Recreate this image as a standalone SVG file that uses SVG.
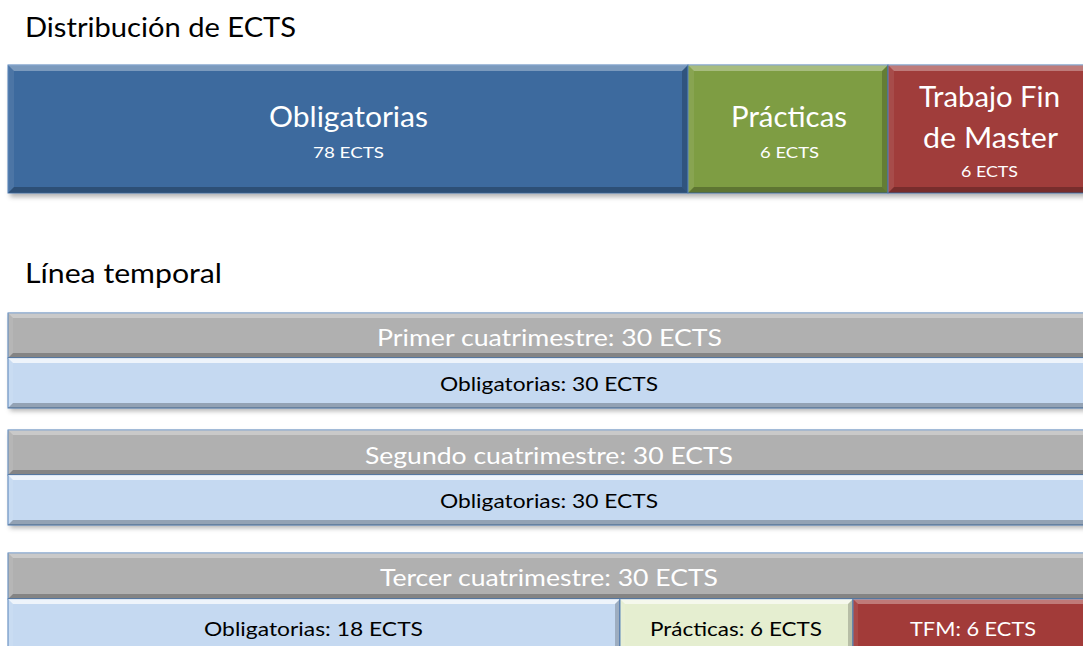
<svg xmlns="http://www.w3.org/2000/svg" width="1083" height="646" viewBox="0 0 1083 646">
<defs>
<filter id="sh" x="-5%" y="-20%" width="110%" height="150%"><feGaussianBlur stdDeviation="2.5"/></filter>
<style>
.t{font-family:Lato,"Open Sans","Liberation Sans",sans-serif}
.h{font-size:27px;fill:#000}
.w{fill:#fff}
.k{fill:#000}
.bt{fill:#fff;fill-opacity:.32}
.bl{fill:#fff;fill-opacity:.08}
.br{fill:#000;fill-opacity:.2}
.bb{fill:#000;fill-opacity:.25}
.ol{stroke:#4f7fb8;stroke-width:1}
.shd{fill:#000;fill-opacity:.3;filter:url(#sh)}
</style>
</defs>
<rect width="1083" height="646" fill="#fff"/>
<text class="t h" x="25" y="37" textLength="271" lengthAdjust="spacingAndGlyphs">Distribución de ECTS</text>
<text class="t h" x="25" y="283" textLength="197" lengthAdjust="spacingAndGlyphs">Línea temporal</text>

<g id="ects">
<rect class="shd" x="10" y="69" width="1085" height="128"/>
<g id="n-oblig">
<rect x="8" y="65" width="680" height="128" fill="#3d6a9e" class="ol"/>
<polygon class="bt" points="8,65 688,65 682,71 14,71"/>
<polygon class="bl" points="8,65 14,71 14,187 8,193"/>
<polygon class="br" points="688,65 688,193 682,187 682,71"/>
<polygon class="bb" points="8,193 688,193 682,187 14,187"/>
<text class="t w" x="348.5" y="127" font-size="28" text-anchor="middle" textLength="159" lengthAdjust="spacingAndGlyphs">Obligatorias</text>
<text class="t w" x="348.5" y="158" font-size="16" text-anchor="middle" textLength="71" lengthAdjust="spacingAndGlyphs">78 ECTS</text>
</g>
<g id="n-prac">
<rect x="688" y="65" width="200" height="128" fill="#7e9d43" class="ol"/>
<polygon class="bt" points="688,65 888,65 882,71 694,71"/>
<polygon class="bl" points="688,65 694,71 694,187 688,193"/>
<polygon class="br" points="888,65 888,193 882,187 882,71"/>
<polygon class="bb" points="688,193 888,193 882,187 694,187"/>
<text class="t w" x="789" y="127" font-size="28" text-anchor="middle" textLength="116" lengthAdjust="spacingAndGlyphs">Prácticas</text>
<text class="t w" x="789.5" y="158" font-size="16" text-anchor="middle" textLength="59" lengthAdjust="spacingAndGlyphs">6 ECTS</text>
</g>
<g id="n-tfm">
<rect x="888" y="65" width="206" height="128" fill="#a03d3b" class="ol"/>
<polygon class="bt" points="888,65 1094,65 1088,71 894,71"/>
<polygon class="bl" points="888,65 894,71 894,187 888,193"/>
<polygon class="bb" points="888,193 1094,193 1088,187 894,187"/>
<text class="t w" x="919" y="107" font-size="28" textLength="141" lengthAdjust="spacingAndGlyphs">Trabajo Fin</text>
<text class="t w" x="923" y="148" font-size="28" textLength="135" lengthAdjust="spacingAndGlyphs">de Master</text>
<text class="t w" x="989.5" y="177" font-size="16" text-anchor="middle" textLength="57" lengthAdjust="spacingAndGlyphs">6 ECTS</text>
</g>
</g>

<g id="cuat1">
<rect class="shd" x="10" y="316" width="1085" height="95"/>
<g id="n-c1h">
<rect x="8" y="313" width="1086" height="45" fill="#b0b0b0" class="ol"/>
<polygon class="bt" points="8,313 1094,313 1089,318 13,318"/>
<polygon class="bl" points="8,313 13,318 13,353 8,358"/>
<polygon class="bb" points="8,358 1094,358 1089,353 13,353"/>
<text class="t w" x="549.5" y="346" font-size="23" text-anchor="middle" textLength="345" lengthAdjust="spacingAndGlyphs">Primer cuatrimestre: 30 ECTS</text>
</g>
<g id="n-c1o">
<rect x="8" y="358" width="1086" height="50" fill="#c5d9f1" class="ol"/>
<polygon class="bt" points="8,358 1094,358 1089,363 13,363" style="fill-opacity:.7"/>
<polygon class="bl" points="8,358 13,363 13,403 8,408"/>
<polygon class="bb" points="8,408 1094,408 1089,403 13,403"/>
<text class="t k" x="549" y="391" font-size="19" text-anchor="middle" textLength="218" lengthAdjust="spacingAndGlyphs">Obligatorias: 30 ECTS</text>
</g>
</g>

<g id="cuat2">
<rect class="shd" x="10" y="433" width="1085" height="95"/>
<g id="n-c2h">
<rect x="8" y="430" width="1086" height="45" fill="#b0b0b0" class="ol"/>
<polygon class="bt" points="8,430 1094,430 1089,435 13,435"/>
<polygon class="bl" points="8,430 13,435 13,470 8,475"/>
<polygon class="bb" points="8,475 1094,475 1089,470 13,470"/>
<text class="t w" x="549" y="464" font-size="23" text-anchor="middle" textLength="368" lengthAdjust="spacingAndGlyphs">Segundo cuatrimestre: 30 ECTS</text>
</g>
<g id="n-c2o">
<rect x="8" y="475" width="1086" height="50" fill="#c5d9f1" class="ol"/>
<polygon class="bt" points="8,475 1094,475 1089,480 13,480" style="fill-opacity:.7"/>
<polygon class="bl" points="8,475 13,480 13,520 8,525"/>
<polygon class="bb" points="8,525 1094,525 1089,520 13,520"/>
<text class="t k" x="549" y="508" font-size="19" text-anchor="middle" textLength="218" lengthAdjust="spacingAndGlyphs">Obligatorias: 30 ECTS</text>
</g>
</g>

<g id="cuat3">
<g id="n-c3h">
<rect x="8" y="553" width="1086" height="46" fill="#b0b0b0" class="ol"/>
<polygon class="bt" points="8,553 1094,553 1089,558 13,558"/>
<polygon class="bl" points="8,553 13,558 13,594 8,599"/>
<polygon class="bb" points="8,599 1094,599 1089,594 13,594"/>
<text class="t w" x="549" y="586" font-size="23" text-anchor="middle" textLength="338" lengthAdjust="spacingAndGlyphs">Tercer cuatrimestre: 30 ECTS</text>
</g>
<g id="n-c3o">
<rect x="8" y="599" width="612" height="56" fill="#c5d9f1" class="ol"/>
<polygon class="bt" points="8,599 620,599 615,604 13,604" style="fill-opacity:.7"/>
<polygon class="bl" points="8,599 13,604 13,650 8,655"/>
<polygon class="br" points="620,599 620,655 615,650 615,604"/>
<text class="t k" x="313.5" y="636" font-size="19" text-anchor="middle" textLength="219" lengthAdjust="spacingAndGlyphs">Obligatorias: 18 ECTS</text>
</g>
<g id="n-c3p">
<rect x="620" y="599" width="233" height="56" fill="#e5eed0" class="ol"/>
<polygon class="bt" points="620,599 853,599 848,604 625,604" style="fill-opacity:.6"/>
<polygon class="bl" points="620,599 625,604 625,650 620,655"/>
<polygon class="br" points="853,599 853,655 848,650 848,604"/>
<text class="t k" x="736" y="636" font-size="19" text-anchor="middle" textLength="172" lengthAdjust="spacingAndGlyphs">Prácticas: 6 ECTS</text>
</g>
<g id="n-c3t">
<rect x="853" y="599" width="241" height="56" fill="#a23b39" class="ol"/>
<polygon class="bt" points="853,599 1094,599 1089,604 858,604"/>
<polygon class="bl" points="853,599 858,604 858,650 853,655"/>
<text class="t w" x="973" y="636" font-size="19" text-anchor="middle" textLength="126" lengthAdjust="spacingAndGlyphs">TFM: 6 ECTS</text>
</g>
</g>
<g id="connectors"/>
</svg>
